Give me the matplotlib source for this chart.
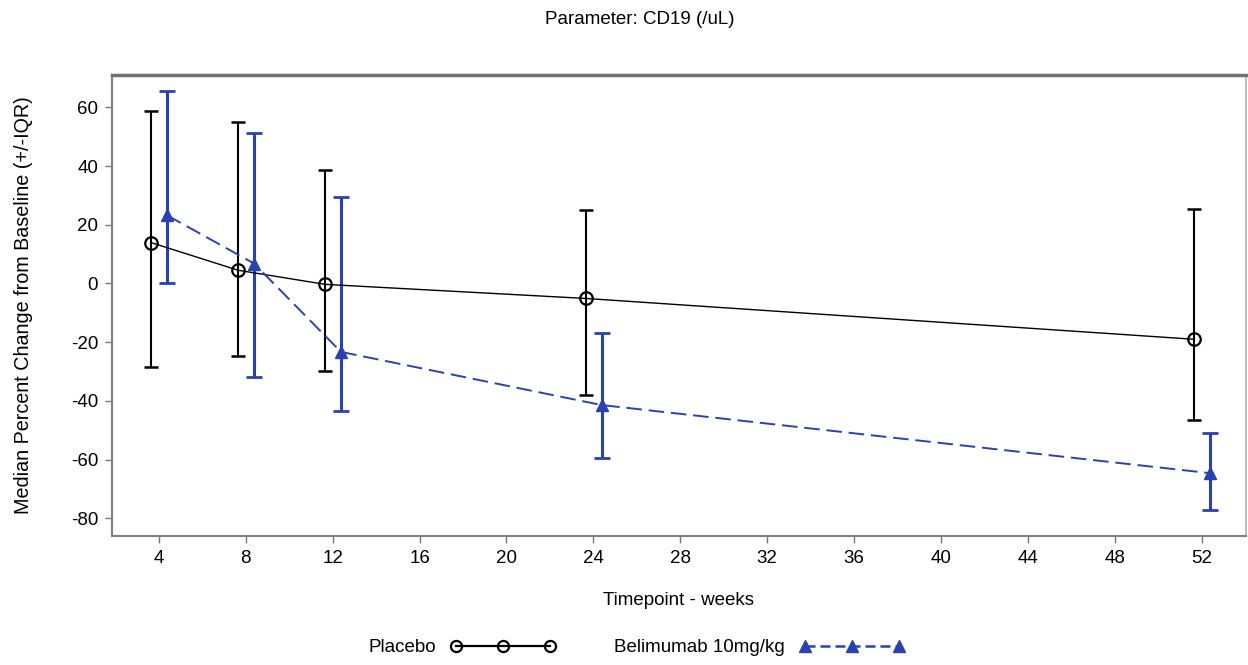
import matplotlib
matplotlib.use("Agg")
import matplotlib.pyplot as plt
from matplotlib.lines import Line2D

plt.rcParams['font.family'] = ['Liberation Sans', 'DejaVu Sans']
plt.rcParams['axes.unicode_minus'] = False

# visit weeks and per-arm medians with IQR bounds
weeks = [4, 8, 12, 24, 52]

placebo_median = [13.9, 4.5, -0.3, -5.1, -19.0]
placebo_q1 = [-28.4, -24.6, -29.8, -38.0, -46.5]
placebo_q3 = [58.7, 55.0, 38.5, 25.0, 25.5]

belim_median = [23.2, 6.8, -23.3, -41.4, -64.6]
belim_q1 = [0.2, -31.8, -43.3, -59.6, -77.1]
belim_q3 = [65.5, 51.2, 29.5, -17.0, -51.0]

xticks = list(range(4, 53, 4))
yticks = [60, 40, 20, 0, -20, -40, -60, -80]

BLUE = '#2a42b0'
FS = 13.5

fig = plt.figure(figsize=(12.48, 6.65), dpi=100)
ax = fig.add_axes([0.0897, 0.194, 0.9087, 0.6932])

# small horizontal offsets so the two arms don't overlap
xp = [w - 0.35 for w in weeks]
xb = [w + 0.38 for w in weeks]

p_err = [[m - lo for m, lo in zip(placebo_median, placebo_q1)],
         [hi - m for m, hi in zip(placebo_median, placebo_q3)]]
b_err = [[m - lo for m, lo in zip(belim_median, belim_q1)],
         [hi - m for m, hi in zip(belim_median, belim_q3)]]

ax.errorbar(xp, placebo_median, yerr=p_err, fmt='none', ecolor='black',
            elinewidth=1.5, capsize=5, capthick=1.8, zorder=2)
ax.errorbar(xb, belim_median, yerr=b_err, fmt='none', ecolor=BLUE,
            elinewidth=2.2, capsize=6, capthick=2.0, zorder=2)

ax.plot(xp, placebo_median, color='black', lw=1.0, marker='o', ms=9,
        mfc='none', mec='black', mew=1.6, zorder=3)
ax.plot(xb, belim_median, color=BLUE, lw=1.4, ls=(0, (8, 3.5)), marker='^',
        ms=9, mfc=BLUE, mec=BLUE, zorder=3)

ax.set_xlim(1.84, 54.04)
ax.set_ylim(-86, 71)
ax.set_xticks(xticks)
ax.set_yticks(yticks)
ax.tick_params(labelsize=FS, length=5, width=1, color='#777777', pad=5)

for side in ['left', 'bottom']:
    ax.spines[side].set_color('#808080')
    ax.spines[side].set_linewidth(1.5)
ax.spines['top'].set_color('#707070')
ax.spines['top'].set_linewidth(2.5)
ax.spines['right'].set_color('#b0b0b0')
ax.spines['right'].set_linewidth(1.2)

ax.set_xlabel('Timepoint - weeks', fontsize=FS)
ax.xaxis.set_label_coords(0.5, -0.122)
ax.set_ylabel('Median Percent Change from Baseline (+/-IQR)', fontsize=14.2)
ax.yaxis.set_label_coords(-0.0700, 0.5)

fig.text(0.513, 0.970, 'Parameter: CD19 (/uL)', ha='center', va='center',
         fontsize=FS)

handles = [
    Line2D([], [], color='black', lw=1.6, marker='o', ms=8, mfc='none',
           mec='black', mew=1.6),
    Line2D([], [], color=BLUE, lw=1.8, ls=(0, (4, 2)), marker='^', ms=9,
           mfc=BLUE, mec=BLUE),
]
fig.legend(handles, ['Placebo', 'Belimumab 10mg/kg'], loc='center',
           bbox_to_anchor=(0.51, 0.026), ncol=2, frameon=False,
           fontsize=FS, numpoints=3, markerfirst=False, handlelength=5.6,
           handletextpad=0.8, columnspacing=3.1)

fig.savefig('out.png', dpi=100)
